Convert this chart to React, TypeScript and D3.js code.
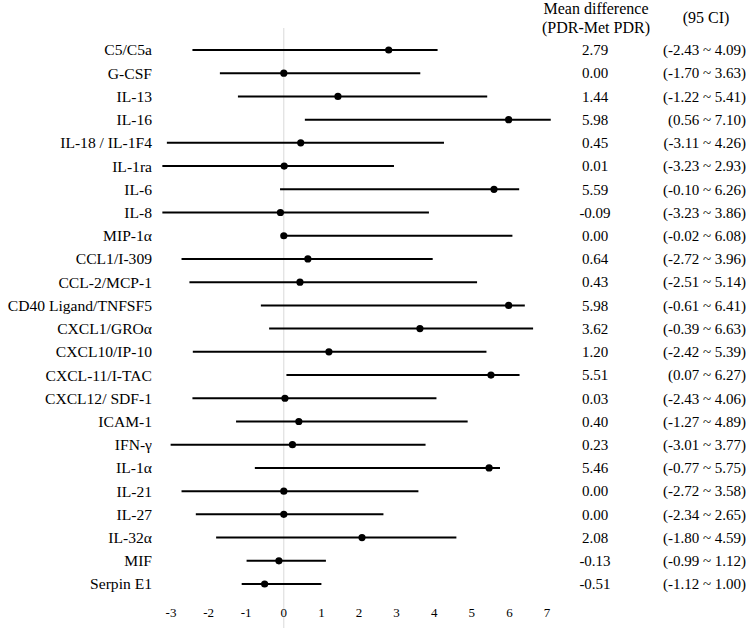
import React from "react";
import * as d3 from "d3";

const WIDTH = 750;
const HEIGHT = 628;

const labels = [
  "C5/C5a", "G-CSF", "IL-13", "IL-16", "IL-18 / IL-1F4", "IL-1ra", "IL-6", "IL-8",
  "MIP-1α", "CCL1/I-309", "CCL-2/MCP-1", "CD40 Ligand/TNFSF5", "CXCL1/GROα",
  "CXCL10/IP-10", "CXCL-11/I-TAC", "CXCL12/ SDF-1", "ICAM-1", "IFN-γ", "IL-1α",
  "IL-21", "IL-27", "IL-32α", "MIF", "Serpin E1",
];
const means = [
  2.79, 0.0, 1.44, 5.98, 0.45, 0.01, 5.59, -0.09, 0.0, 0.64, 0.43, 5.98, 3.62,
  1.2, 5.51, 0.03, 0.4, 0.23, 5.46, 0.0, 0.0, 2.08, -0.13, -0.51,
];
const lower = [
  -2.43, -1.7, -1.22, 0.56, -3.11, -3.23, -0.1, -3.23, -0.02, -2.72, -2.51, -0.61,
  -0.39, -2.42, 0.07, -2.43, -1.27, -3.01, -0.77, -2.72, -2.34, -1.8, -0.99, -1.12,
];
const upper = [
  4.09, 3.63, 5.41, 7.1, 4.26, 2.93, 6.26, 3.86, 6.08, 3.96, 5.14, 6.41, 6.63,
  5.39, 6.27, 4.06, 4.89, 3.77, 5.75, 3.58, 2.65, 4.59, 1.12, 1.0,
];
const ticks = [-3, -2, -1, 0, 1, 2, 3, 4, 5, 6, 7];

const FONT = "Liberation Serif";
const fmt = d3.format(".2f");
const fmtNum = (v: number) => (v === 0 ? "0.00" : fmt(v).replace("−", "-"));

export default function App() {
  const x = d3.scaleLinear().domain([-3, 7]).range([171, 547]);
  const y = d3.scalePoint<string>().domain(labels).range([50, 584]);

  return (
    <svg
      width={WIDTH}
      height={HEIGHT}
      style={{ position: "absolute", left: 0, top: 0, background: "#fff", fontFamily: FONT }}
    >
      <rect width={WIDTH} height={HEIGHT} fill="#fff" />
      {/* zero reference line */}
      <line x1={x(0)} x2={x(0)} y1={28} y2={HEIGHT} stroke="#d9d9d9" strokeWidth={1} />

      {/* headers */}
      <g fontSize={16} fill="#000" textAnchor="middle">
        <text x={596} y={8} dy="0.35em">Mean difference</text>
        <text x={596} y={27} dy="0.35em">(PDR-Met PDR)</text>
        <text x={706} y={17} dy="0.35em">(95 CI)</text>
      </g>

      {labels.map((name, i) => {
        const cy = y(name)!;
        return (
          <g key={name}>
            <text x={152} y={cy} dy="0.35em" textAnchor="end" fontSize={15.6}>
              {name}
            </text>
            <line x1={x(lower[i])} x2={x(upper[i])} y1={cy} y2={cy} stroke="#000" strokeWidth={2} />
            <circle cx={x(means[i])} cy={cy} r={3.6} fill="#000" />
            <text x={595} y={cy} dy="0.35em" textAnchor="middle" fontSize={15}>
              {fmtNum(means[i])}
            </text>
            <text x={746} y={cy} dy="0.35em" textAnchor="end" fontSize={15}>
              {`(${fmtNum(lower[i])} ~ ${fmtNum(upper[i])})`}
            </text>
          </g>
        );
      })}

      {/* axis tick labels */}
      <g fontSize={13} textAnchor="middle">
        {ticks.map((t) => (
          <text key={t} x={x(t)} y={612} dy="0.35em">
            {t}
          </text>
        ))}
      </g>
    </svg>
  );
}
